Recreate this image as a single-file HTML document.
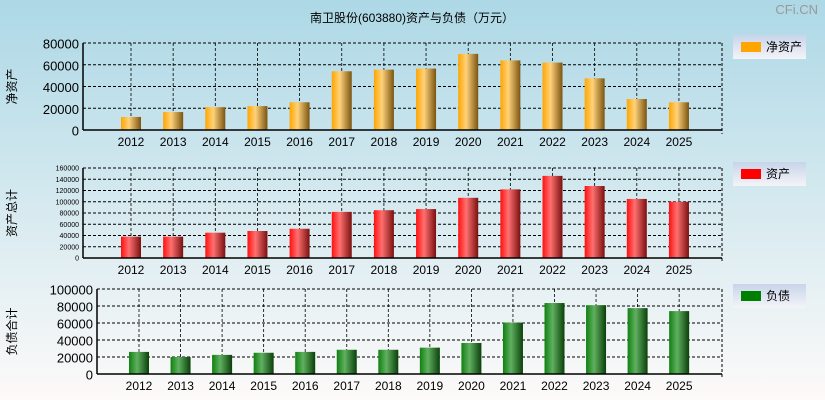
<!DOCTYPE html>
<html><head><meta charset="utf-8"><style>
body{margin:0;width:825px;height:400px;overflow:hidden;font-family:"Liberation Sans","Noto Sans CJK SC",sans-serif}
svg{display:block}
</style></head><body>
<svg id="c" width="825" height="400" xmlns="http://www.w3.org/2000/svg">
<defs>
<linearGradient id="bg" x1="0" y1="0" x2="0" y2="1"><stop offset="0" stop-color="#add8e6"/><stop offset="1" stop-color="#fdfaf9"/></linearGradient>
<linearGradient id="lg" x1="0" y1="0" x2="0" y2="1"><stop offset="0" stop-color="#c8d4ea"/><stop offset="1" stop-color="#f4f4f8"/></linearGradient>
<linearGradient id="g0" x1="0" x2="1"><stop offset="0" stop-color="#ffa500"/><stop offset="0.4" stop-color="#ffd27a"/><stop offset="1" stop-color="#7a5410"/></linearGradient>
<linearGradient id="g1" x1="0" x2="1"><stop offset="0" stop-color="#ff1010"/><stop offset="0.4" stop-color="#ff7070"/><stop offset="1" stop-color="#7a1010"/></linearGradient>
<linearGradient id="g2" x1="0" x2="1"><stop offset="0" stop-color="#108010"/><stop offset="0.4" stop-color="#60b060"/><stop offset="1" stop-color="#0a400a"/></linearGradient>
</defs>
<rect width="825" height="400" fill="url(#bg)"/>
<text x="412" y="22" font-size="12" text-anchor="middle">南卫股份(603880)资产与负债（万元）</text>
<text x="818" y="14" font-size="13" text-anchor="end" fill="#999">CFi.CN</text>
</svg>
<script>
const years=["2012","2013","2014","2015","2016","2017","2018","2019","2020","2021","2022","2023","2024","2025"];
const netAssets=[12000,16500,21000,22000,25500,54000,55500,56500,70000,64000,62000,47500,28500,25500];
const totalAssets=[38000,38000,45000,48000,52000,82000,85000,87000,107000,122000,146000,128000,105000,100000];
const liabilities=[26000,20000,22500,25000,26000,28500,28500,31000,36500,60500,83500,81000,77500,74000];
const ticks1=[0,20000,40000,60000,80000];
const ticks2=[0,20000,40000,60000,80000,100000,120000,140000,160000];
const ticks3=[0,20000,40000,60000,80000,100000];
const svg=document.getElementById('c');const NS='http://www.w3.org/2000/svg';
function mk(t,a,p){const e=document.createElementNS(NS,t);for(const k in a)e.setAttribute(k,a[k]);(p||svg).appendChild(e);return e;}
function panel(cfg){
 const g=mk('g',{});
 
 
 const max=cfg.ticks[cfg.ticks.length-1];
 const y=v=>cfg.bot-(v/max)*(cfg.bot-cfg.top);
 const x=i=>cfg.x0+i*cfg.dx;
 for(const t of cfg.ticks){
  if(t>0){const l=mk('line',{x1:cfg.left,x2:cfg.right,y1:y(t),y2:y(t),stroke:'#000','stroke-dasharray':'3,2','stroke-width':1},g);
  }
  const tx=mk('text',{x:cfg.left-4,y:y(t)+cfg.fs/2-1,'font-size':cfg.fs,'text-anchor':'end'},g);tx.textContent=t;
  
 }
 years.forEach((yr,i)=>{
  const l=mk('line',{x1:x(i),x2:x(i),y1:cfg.top,y2:cfg.bot,stroke:'#000','stroke-dasharray':'3,2','stroke-width':0.8},g);
  
 });
 mk('line',{x1:cfg.right,x2:cfg.right,y1:cfg.top,y2:cfg.bot+4,stroke:'#000','stroke-dasharray':'3,2'},g);
 mk('line',{x1:cfg.left,x2:cfg.right,y1:cfg.top,y2:cfg.top,stroke:'#000','stroke-dasharray':'3,2'},g);
 cfg.vals.forEach((v,i)=>{
  const r=mk('rect',{x:x(i)-10,y:y(v),width:20,height:cfg.bot-y(v),fill:cfg.fill},g);
  
  const t=mk('text',{x:x(i),y:cfg.bot+16,'font-size':12,'text-anchor':'middle'},g);t.textContent=years[i];
  
 });
 mk('line',{x1:cfg.left,x2:cfg.right,y1:cfg.bot,y2:cfg.bot,stroke:'#000','stroke-width':1.5},g);
 mk('line',{x1:cfg.left,x2:cfg.left,y1:cfg.top,y2:cfg.bot,stroke:'#000','stroke-width':1.5},g);
 const cy=(cfg.top+cfg.bot)/2;
 const at=mk('text',{x:16,y:cy,'font-size':12,'text-anchor':'middle',transform:`rotate(-90 16 ${cy})`},g);at.textContent=cfg.axis;
 
 const lg=mk('g',{},g);
 
 mk('rect',{x:733,y:cfg.ly,width:73,height:24,fill:'url(#lg)'},lg);
 mk('rect',{x:741,y:cfg.ly+7,width:20,height:10,fill:cfg.sw},lg);
 const lt=mk('text',{x:766,y:cfg.ly+16,'font-size':12},lg);lt.textContent=cfg.leg;
}
panel({name:'net-assets-panel',vals:netAssets,ticks:ticks1,top:43,bot:130,left:83,right:722,x0:131,dx:42.15,fs:13,fill:'url(#g0)',axis:'净资产',leg:'净资产',sw:'#ffa500',ly:35});
panel({name:'total-assets-panel',vals:totalAssets,ticks:ticks2,top:168,bot:258,left:83,right:722,x0:131,dx:42.15,fs:7,fill:'url(#g1)',axis:'资产总计',leg:'资产',sw:'#ff0000',ly:162});
panel({name:'liabilities-panel',vals:liabilities,ticks:ticks3,top:289,bot:374,left:97,right:722,x0:139,dx:41.55,fs:13,fill:'url(#g2)',axis:'负债合计',leg:'负债',sw:'#008000',ly:284});
</script>
</body></html>
